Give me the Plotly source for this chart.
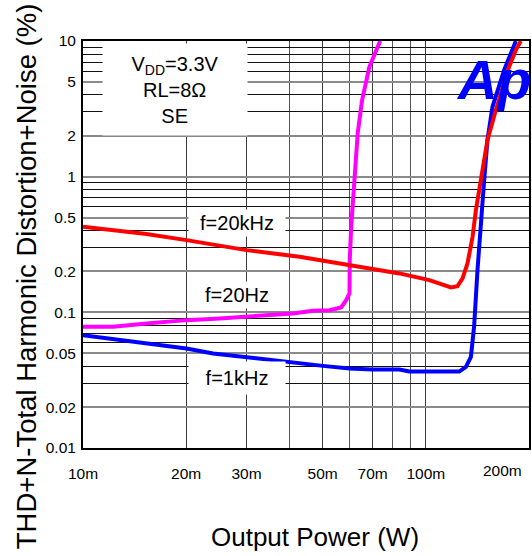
import math
import plotly.graph_objects as go

# ---------------- data ----------------
mag_x = [0.01, 0.01225, 0.01532, 0.02003, 0.02505, 0.02997, 0.04096, 0.04683, 0.05238, 0.05664,
         0.05857, 0.05989, 0.0600, 0.06058, 0.06151, 0.06263, 0.0633, 0.06519, 0.06846, 0.0736]
mag_y = [0.0782, 0.0782, 0.0828, 0.0876, 0.0902, 0.0926, 0.0982, 0.1026, 0.1038, 0.1087,
         0.1230, 0.1378, 0.2427, 0.427, 0.753, 1.325, 2.097, 3.672, 6.46, 10.0]

blue_x = [0.01, 0.014, 0.02003, 0.02395, 0.02997, 0.04006, 0.05008, 0.05989, 0.070, 0.08376,
          0.0895, 0.1252, 0.1309, 0.1354, 0.1384, 0.1415, 0.1431, 0.1448, 0.148, 0.1513,
          0.1565, 0.1693, 0.1831]
blue_y = [0.0679, 0.0606, 0.0542, 0.0498, 0.0465, 0.0432, 0.0403, 0.0386, 0.0379, 0.0379,
          0.0366, 0.0366, 0.0396, 0.047, 0.08, 0.2047, 0.304, 0.539, 0.944, 1.862,
          3.275, 6.11, 10.0]

red_x = [0.01, 0.0131, 0.01532, 0.02003, 0.02997, 0.04282, 0.05989, 0.08376, 0.1024, 0.1095,
         0.1184, 0.1237, 0.128, 0.1323, 0.1369, 0.1400, 0.1463, 0.1513, 0.1601, 0.1674,
         0.175, 0.1831, 0.1893]
red_y = [0.427, 0.3925, 0.3773, 0.3407, 0.2875, 0.2566, 0.2229, 0.1936, 0.1728, 0.1633,
         0.1526, 0.156, 0.178, 0.2294, 0.3604, 0.567, 1.118, 1.862, 3.098, 4.60,
         6.46, 8.58, 10.0]

x_tick_vals = [0.01, 0.02, 0.03, 0.05, 0.07, 0.1, 0.2]
x_tick_text = ["10m", "20m", "30m", "50m", "70m", "100m", "200m"]
x_minor_vals = [0.04, 0.06, 0.08, 0.09]

y_tick_vals = [0.01, 0.02, 0.05, 0.1, 0.2, 0.5, 1, 2, 5, 10]
y_tick_text = ["0.01", "0.02", "0.05", "0.1", "0.2", "0.5", "1", "2", "5", "10"]
y_minor_vals = [0.03, 0.04, 0.06, 0.07, 0.08, 0.09,
                0.3, 0.4, 0.6, 0.7, 0.8, 0.9,
                3, 4, 6, 7, 8, 9]

x_range = [0.01, 0.2]
y_range = [0.01, 10]

# ---------------- layout geometry (pixels) ----------------
W, H = 532, 556
L, R, T, B = 83, 529, 41, 447.7
PW, PH = R - L, B - T


def px(x):
    return (x - L) / PW


def py(y):
    return (B - y) / PH


FONT = "Arial, Liberation Sans, sans-serif"
TICKSIZE = 15.5

fig = go.Figure()
fig.add_trace(go.Scatter(x=mag_x, y=mag_y, mode="lines",
                         line=dict(color="#FF00FF", width=4), showlegend=False))
fig.add_trace(go.Scatter(x=blue_x, y=blue_y, mode="lines",
                         line=dict(color="#0000FF", width=4), showlegend=False))
fig.add_trace(go.Scatter(x=red_x, y=red_y, mode="lines",
                         line=dict(color="#FF0000", width=4), showlegend=False))

annotations = []

# Ap logo
annotations.append(dict(
    x=px(493), y=py(80), xref="paper", yref="paper",
    text="<b><i>Ap</i></b>", showarrow=False, xanchor="center", yanchor="middle",
    font=dict(family="Liberation Sans Narrow, Arial Narrow, Arial", size=55, color="#0000FF")))

# x tick labels: the label at the axis end is right-aligned so it stays inside
xt_vals, xt_text = [], []
for v, t in zip(x_tick_vals, x_tick_text):
    if abs(v - x_range[1]) < 1e-12:
        annotations.append(dict(
            x=math.log10(v), xref="x", y=py(470), yref="paper",
            text=t, showarrow=False, xanchor="right", yanchor="middle",
            xshift=-5, font=dict(family=FONT, size=TICKSIZE, color="black")))
    else:
        xt_vals.append(v)
        xt_text.append(t)

fig.update_xaxes(
    type="log", range=[math.log10(x_range[0]), math.log10(x_range[1])],
    tickmode="array", tickvals=xt_vals, ticktext=xt_text,
    ticks="", ticklabelstandoff=10,
    tickfont=dict(family=FONT, size=TICKSIZE, color="black"),
    showgrid=True, gridcolor="#3a3a3a", gridwidth=1.3,
    minor=dict(tickmode="array", tickvals=x_minor_vals, showgrid=True,
               gridcolor="#555555", gridwidth=1.4, ticks=""),
    showline=True, linecolor="black", linewidth=2, mirror=True,
    zeroline=False, fixedrange=True,
)
fig.update_yaxes(
    type="log", range=[math.log10(y_range[0]), math.log10(y_range[1])],
    tickmode="array", tickvals=y_tick_vals, ticktext=y_tick_text,
    ticks="", ticklabelstandoff=2,
    tickfont=dict(family=FONT, size=TICKSIZE, color="black"),
    showgrid=True, gridcolor="#8a8a8a", gridwidth=1.8,
    minor=dict(tickmode="array", tickvals=y_minor_vals, showgrid=True,
               gridcolor="#111111", gridwidth=1, ticks=""),
    showline=True, linecolor="black", linewidth=2, mirror=True,
    zeroline=False, fixedrange=True,
)

# condition box
annotations.append(dict(
    x=px(175), y=py(89.5), xref="paper", yref="paper",
    text="V<sub>DD</sub>=3.3V<br>RL=8Ω<br>SE", showarrow=False,
    xanchor="center", yanchor="middle", align="center",
    width=144, height=91, bgcolor="white", borderpad=0,
    font=dict(family=FONT, size=20, color="black")))

# curve labels
for txt, cy, hgt in [("f=20kHz", 222.5, 26), ("f=20Hz", 295, 26), ("f=1kHz", 378, 32)]:
    annotations.append(dict(
        x=px(237), y=py(cy), xref="paper", yref="paper",
        text=txt, showarrow=False, xanchor="center", yanchor="middle",
        width=96, height=hgt, bgcolor="white", borderpad=0,
        font=dict(family=FONT, size=20, color="black")))

# axis titles
annotations.append(dict(
    x=px(315), y=py(537), xref="paper", yref="paper",
    text="Output Power (W)", showarrow=False, xanchor="center", yanchor="middle",
    font=dict(family=FONT, size=26, color="black")))
annotations.append(dict(
    x=px(26), y=py(276), xref="paper", yref="paper",
    text="THD+N-Total Harmonic Distortion+Noise (%)", showarrow=False,
    xanchor="center", yanchor="middle", textangle=-90,
    font=dict(family=FONT, size=27.5, color="black")))

fig.update_layout(
    width=W, height=H,
    margin=dict(l=L, r=W - R, t=T, b=H - B, autoexpand=False),
    paper_bgcolor="white", plot_bgcolor="white",
    annotations=annotations,
    showlegend=False,
)

fig.write_html("out.html", config={"displayModeBar": False})
